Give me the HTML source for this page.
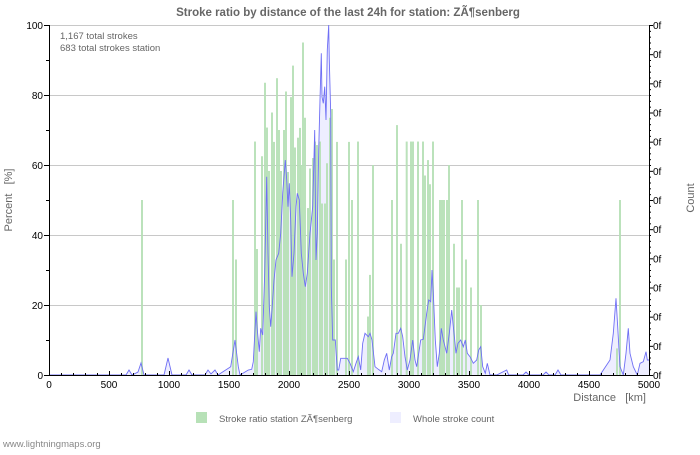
<!DOCTYPE html>
<html><head><meta charset="utf-8"><style>
html,body{margin:0;padding:0;background:#fff;}
svg text{font-family:"Liberation Sans","DejaVu Sans",sans-serif;}
</style></head><body>
<svg id="c" width="700" height="450" xmlns="http://www.w3.org/2000/svg">
<rect width="700" height="450" fill="#fff"/>
<text x="348" y="16" text-anchor="middle" font-size="11.5" font-weight="bold" fill="#666">Stroke ratio by distance of the last 24h for station: ZÃ¶senberg</text>
<g id="grid" stroke="#c8c8c8" stroke-width="1"></g>
<g id="fill"></g>
<g id="bars" fill="#b5dfb5" fill-opacity="0.92"></g>
<g id="line"></g>
<g id="axes" stroke="#000" stroke-width="1"></g>
<g id="lbl" font-size="10" fill="#000"></g>
<text x="60" y="39" font-size="9.5" fill="#666">1,167 total strokes</text>
<text x="60" y="51" font-size="9.5" fill="#666">683 total strokes station</text>
<text transform="translate(12,200) rotate(-90)" text-anchor="middle" font-size="11" fill="#666">Percent&#160;&#160;&#160;[%]</text>
<text transform="translate(694,198) rotate(-90)" text-anchor="middle" font-size="11" fill="#666">Count</text>
<text x="646" y="401" text-anchor="end" font-size="11" fill="#666">Distance&#160;&#160;&#160;[km]</text>
<rect x="196" y="412" width="11" height="11" fill="#b7e1b7"/>
<text x="219" y="422" font-size="9.5" fill="#666">Stroke ratio station ZÃ¶senberg</text>
<rect x="390" y="412" width="11" height="11" fill="#eeeeff"/>
<text x="413" y="422" font-size="9.5" fill="#666">Whole stroke count</text>
<text x="3" y="447" font-size="9.5" fill="#888">www.lightningmaps.org</text>
</svg>
<script>
var NS="http://www.w3.org/2000/svg";
function el(p,t,a,txt){var e=document.createElementNS(NS,t);for(var k in a)e.setAttribute(k,a[k]);if(txt!==undefined)e.textContent=txt;document.getElementById(p).appendChild(e);return e;}
var X0=49,X1=649,Y0=375,Y1=25;
for(var i=1;i<=5;i++){var y=Y0-i*70;el("grid","line",{x1:X0,x2:X1,y1:y+0.5,y2:y+0.5});}
el("grid","line",{x1:X0,x2:X1,y1:Y1+0.5,y2:Y1+0.5});
var bars=[[141,50],[232,50],[235,33],[254,66.7],[256,36],[261,62.5],[264,83.5],[266,70.7],[268,58.3],[271,75],[273,66.6],[276,84.8],[278,70],[280,58.3],[283,70],[285,81],[287,58],[290,79.4],[292,88.4],[294,65],[297,67.8],[299,70.6],[300,60],[302,95],[304,73.5],[307,47.7],[309,59],[312,62],[314,66.7],[316,65.7],[319,66.7],[321,49],[324,49],[326,60.5],[329,73.5],[331,76],[333,33],[336,66.6],[345,33],[348,66.6],[351,50],[357,66.7],[367,16.7],[369,28.6],[372,60],[391,50],[396,71.4],[400,37.5],[405.7,66.7],[410,66.7],[412,66.7],[417,66.7],[422,66.7],[424,57],[427,61.4],[429,54.5],[432,66.7],[439,50],[441,50],[443,50],[446,50],[448,60],[453,37.5],[456,25],[458,25],[461,50],[465,33],[470,25],[477,50],[480,20],[616,7.6],[619,50]];
bars.forEach(function(b){var h=b[1]*3.5;el("bars","rect",{x:b[0],y:Y0-h,width:2,height:h});});
var pts=[[49,375],[120,375],[126,375],[129,370],[132,375],[138,372],[141,363],[144,375],[164,375],[168,358],[172,375],[186,375],[189,370],[192,375],[205,375],[208,370],[211,374],[215,370],[218,375]];
var z3=[[32,1040],[45,960],[55,1040],[60,1065],[85,1050],[95,1048],[100,1025],[108,875],[112,930],[118,995],[122,925],[128,945],[134,760],[140,470],[144,700],[148,860],[152,920],[156,870],[162,780],[168,720],[176,700],[182,640],[188,520],[196,420],[200,480],[204,560],[208,490],[212,600],[216,770],[222,700],[228,560],[232,520],[238,540],[244,700],[250,760],[256,800],[262,760],[270,640],[278,560],[284,330],[288,720],[292,640],[296,390],[300,240],[304,100],[306,230],[310,250],[314,200],[318,300],[322,90],[326,15],[328,120],[332,280],[334,800],[338,960],[346,960],[352,1050],[356,1050],[362,1015],[382,1015],[390,1030]];
z3.forEach(function(p){pts.push([220+p[0]/3,20+p[1]/3]);});
var z4=[[10,815],[18,790],[25,770],[32,810],[38,730],[45,700],[55,710],[60,700],[66,720],[75,800],[85,808],[95,815],[103,780],[110,760],[118,810],[125,770],[130,760],[138,700],[145,700],[152,685],[158,710],[165,770],[172,810],[180,780],[188,720],[195,780],[200,800],[206,760],[212,720],[220,718],[230,640],[236,600],[242,605],[246,510],[250,580],[256,720],[262,800],[268,760],[274,685],[280,720],[290,760],[298,700],[305,630],[312,700],[318,760],[324,730],[332,720],[340,740],[346,720],[352,760],[360,770],[370,790],[380,780],[386,750],[392,740],[398,800],[406,820],[412,790],[420,825],[440,825],[470,810],[476,825]];
z4.forEach(function(p){pts.push([350+p[0]/3,100+p[1]/3]);});
[[523,375],[526,372],[529,375],[543,375],[546,372],[549,375],[555,375],[558,370],[561,375],[590,375]].forEach(function(p){pts.push(p);});
var z5=[[120,1125],[150,1080],[160,1000],[168,895],[172,960],[180,1100],[190,1125],[198,1060],[205,985],[210,1060],[220,1100],[232,1125],[240,1090],[250,1085],[258,1055],[262,1080],[267,1080]];
z5.forEach(function(p){pts.push([560+p[0]/3,p[1]/3]);});
var s=pts.map(function(p){return p[0].toFixed(1)+","+Math.min(375,p[1]).toFixed(1);}).join(" ");
el("fill","polygon",{points:s+" 649,375 49,375",fill:"#eeeeff",stroke:"none"});
el("line","polyline",{points:s,fill:"none",stroke:"#6f6ff5","stroke-width":"0.9"});
el("axes","line",{x1:X0+0.5,x2:X0+0.5,y1:Y1,y2:Y0});
el("axes","line",{x1:X0,x2:X1,y1:Y0+0.5,y2:Y0+0.5});
el("axes","line",{x1:X1+0.5,x2:X1+0.5,y1:Y1,y2:Y0});
for(var i=0;i<=10;i++){var y=Y0-i*35+0.5;el("axes","line",{x1:i%2==0?44:46,x2:X0,y1:y,y2:y});}
for(var i=0;i<=50;i++){var x=X0+i*12+0.5;el("axes","line",{x1:x,x2:x,y1:Y0-(i%5==0?4:2),y2:Y0});}
for(var i=0;i<=60;i++){var y=Y0-i*350/60+0.5;el("axes","line",{x1:X1,x2:X1+(i%5==0?4:2),y1:y,y2:y});}
for(var i=0;i<=5;i++){var y=Y0-i*70;el("lbl","text",{x:43,y:y+4,"text-anchor":"end"},String(i*20));}
for(var i=0;i<=10;i++){var x=X0+i*60;el("lbl","text",{x:x,y:388,"text-anchor":"middle"},String(i*500));}
for(var i=0;i<=12;i++){var y=Y0-i*350/12;el("lbl","text",{x:653,y:y+4},"0f");}
</script>
</body></html>
